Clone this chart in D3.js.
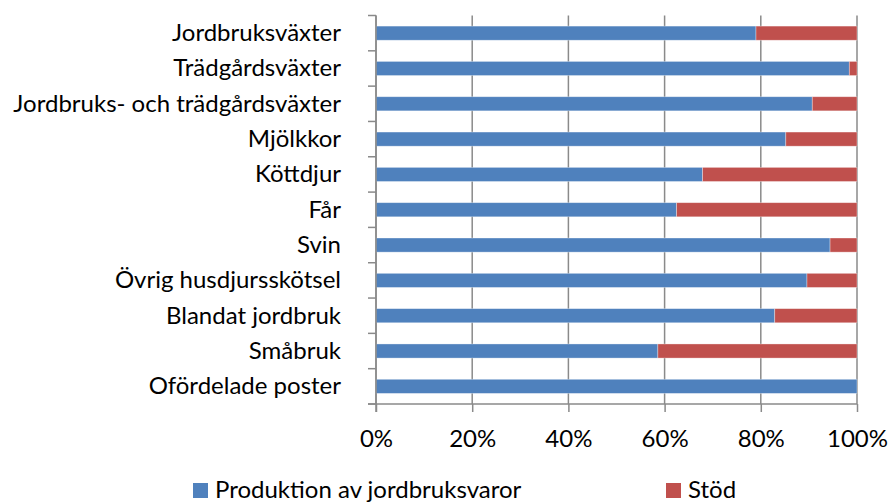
<!DOCTYPE html>
<html>
<head>
<meta charset="utf-8">
<script src="https://cdn.jsdelivr.net/npm/d3@7"></script>
<style>
  html, body { margin: 0; padding: 0; background: #fff; }
  svg { display: block; }
  text { font-family: Lato, "Open Sans", sans-serif; fill: #000; }
</style>
</head>
<body>
<svg id="chart" width="895" height="504"></svg>
<script>
const categories = [
  "Jordbruksväxter",
  "Trädgårdsväxter",
  "Jordbruks- och trädgårdsväxter",
  "Mjölkkor",
  "Köttdjur",
  "Får",
  "Svin",
  "Övrig husdjursskötsel",
  "Blandat jordbruk",
  "Småbruk",
  "Ofördelade poster"
];
const produktion = [0.79, 0.984, 0.907, 0.852, 0.679, 0.625, 0.944, 0.896, 0.829, 0.586, 1.0];
const stod = [0.21, 0.016, 0.093, 0.148, 0.321, 0.375, 0.056, 0.104, 0.171, 0.414, 0.0];
const seriesNames = ["Produktion av jordbruksvaror", "Stöd"];
const seriesColors = ["#4F81BD", "#C0504D"];
const xTicks = [0, 0.2, 0.4, 0.6, 0.8, 1.0];

const svg = d3.select("#chart");
const FS = 24;
const gridColor = "#8a8a8a";

const x = d3.scaleLinear().domain([0, 1]).range([376, 857]);
const y = d3.scaleBand().domain(categories).range([15.5, 404]).paddingInner(0.6).paddingOuter(0.3);

// gridlines
svg.append("g").selectAll("line").data(xTicks).join("line")
  .attr("x1", d => x(d)).attr("x2", d => x(d))
  .attr("y1", 15.5).attr("y2", 404)
  .attr("stroke", gridColor).attr("stroke-width", 1.5);

// stacked bars
const rows = categories.map((c, i) => ({ cat: c, vals: [produktion[i], stod[i]] }));
const stackData = rows.map(r => {
  let acc = 0;
  return r.vals.map((v, k) => { const s = { cat: r.cat, k, x0: acc, x1: acc + v }; acc += v; return s; });
}).flat().filter(d => d.x1 - d.x0 > 0);

svg.append("g").selectAll("rect").data(stackData).join("rect")
  .attr("x", d => x(d.x0))
  .attr("y", d => y(d.cat))
  .attr("width", d => x(d.x1) - x(d.x0))
  .attr("height", y.bandwidth())
  .attr("fill", d => seriesColors[d.k])
  .attr("stroke", "#ffffff").attr("stroke-opacity", 0.45).attr("stroke-width", 0.75);

// bottom axis
const xAxis = d3.axisBottom(x).tickValues(xTicks).tickFormat(d3.format(".0%")).tickSizeInner(8).tickSizeOuter(0);
const gx = svg.append("g").attr("transform", "translate(0,404)").call(xAxis);
gx.select(".domain").attr("d", `M368,0H${x(1)}`).attr("stroke", gridColor).attr("stroke-width", 1.5);
gx.selectAll(".tick line").attr("stroke", gridColor).attr("stroke-width", 1.5);
gx.selectAll(".tick text")
  .attr("y", 42.5).attr("dy", null)
  .style("font-size", FS + "px").style("font-family", "Lato, sans-serif").attr("fill", "#000");

// left axis (ticks at band boundaries)
const step = y.step();
const bounds = categories.map(c => y(c) - y.paddingInner() * step / 2);
bounds.push(y(categories[categories.length - 1]) + y.bandwidth() + y.paddingInner() * step / 2);
const gy = svg.append("g");
gy.append("line").attr("x1", 376).attr("x2", 376).attr("y1", bounds[0]).attr("y2", 412)
  .attr("stroke", gridColor).attr("stroke-width", 1.5);
gy.selectAll("line.tk").data(bounds).join("line").attr("class", "tk")
  .attr("x1", 368).attr("x2", 376).attr("y1", d => d).attr("y2", d => d)
  .attr("stroke", gridColor).attr("stroke-width", 1.5);

// category labels
svg.append("g").selectAll("text").data(categories).join("text")
  .attr("x", 341)
  .attr("y", d => y(d) + y.bandwidth() / 2 + 8)
  .attr("text-anchor", "end")
  .style("font-size", FS + "px")
  .text(d => d);

// legend
const legendX = [193, 666];
const lg = svg.append("g").selectAll("g").data(seriesNames).join("g")
  .attr("transform", (d, i) => `translate(${legendX[i]},483)`);
lg.append("rect").attr("width", 15).attr("height", 15).attr("fill", (d, i) => seriesColors[i]);
lg.append("text").attr("x", 22).attr("y", 15).style("font-size", FS + "px").text(d => d);
</script>
</body>
</html>
